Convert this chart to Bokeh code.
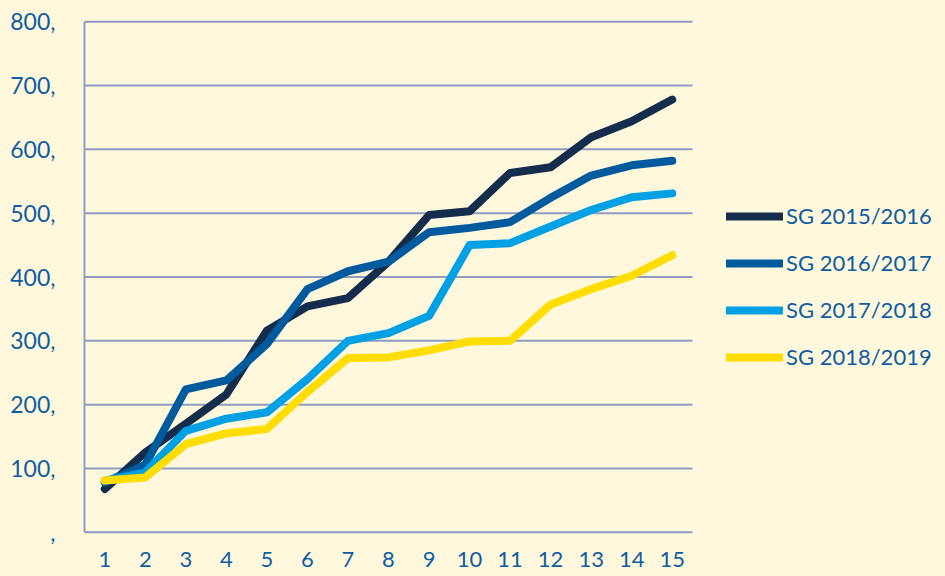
from bokeh.plotting import figure
from bokeh.models import Legend, LegendItem, FixedTicker, Range1d
from bokeh.embed import file_html
from bokeh.resources import INLINE

rounds = list(range(1, 16))
sg_2015_2016 = [68, 125, 170, 216, 316, 354, 367, 424, 497, 503, 563, 572, 619, 644, 678]
sg_2016_2017 = [78, 106, 224, 238, 295, 381, 409, 424, 470, 477, 486, 524, 559, 575, 582]
sg_2017_2018 = [81, 94, 159, 178, 188, 240, 300, 312, 339, 450, 453, 479, 505, 525, 531]
sg_2018_2019 = [81, 86, 138, 155, 162, 220, 273, 274, 285, 299, 300, 357, 381, 402, 434]

series_names = ["SG 2015/2016", "SG 2016/2017", "SG 2017/2018", "SG 2018/2019"]
series_colors = ["#152D4C", "#005A9E", "#00A1E4", "#FFDD00"]

y_ticks = [0, 100, 200, 300, 400, 500, 600, 700, 800]
y_tick_labels = [",", "100,", "200,", "300,", "400,", "500,", "600,", "700,", "800,"]

BG = "#FFF8DC"
GRID = "#8C9DC0"
TEXT = "#0E5CA3"
FONT = "Lato"

# plot area spans the legend region too; gridlines/axis lines drawn only over the data span
x_lo, x_hi = 0.5, len(rounds) + 0.5
px_per_x = 608 / len(rounds)
frame_w = 945 - 81
x_start = x_lo - 3 / px_per_x
x_end = x_start + frame_w / px_per_x

p = figure(width=945, height=576, output_backend="svg", toolbar_location=None,
           x_range=Range1d(x_start, x_end), y_range=Range1d(-5, 805),
           min_border_left=81, min_border_right=0, min_border_top=18, min_border_bottom=41)
p.background_fill_color = BG
p.border_fill_color = BG
p.outline_line_color = None
p.xgrid.grid_line_color = None
p.ygrid.grid_line_color = None

# horizontal gridlines and axis lines
p.segment(x0=[x_lo] * len(y_ticks), x1=[x_hi] * len(y_ticks), y0=y_ticks, y1=y_ticks,
          line_color=GRID, line_width=2)
p.segment(x0=[x_lo], x1=[x_lo], y0=[y_ticks[0]], y1=[y_ticks[-1]], line_color=GRID, line_width=2)

p.yaxis.ticker = FixedTicker(ticks=y_ticks)
p.yaxis.major_label_overrides = {t: l for t, l in zip(y_ticks, y_tick_labels)}
p.xaxis.ticker = FixedTicker(ticks=rounds)

for ax in (p.xaxis[0], p.yaxis[0]):
    ax.axis_line_color = None
    ax.major_tick_line_color = None
    ax.minor_tick_line_color = None
    ax.major_label_text_color = TEXT
    ax.major_label_text_font = FONT
    ax.major_label_text_font_size = "23px"
p.xaxis.major_label_text_font_size = "22px"
p.xaxis.major_label_standoff = 10
p.yaxis.major_label_standoff = 20

items = []
for name, vals, col in zip(series_names,
                           [sg_2015_2016, sg_2016_2017, sg_2017_2018, sg_2018_2019],
                           series_colors):
    r = p.line(rounds, vals, line_color=col, line_width=8, line_cap="round", line_join="round")
    items.append(LegendItem(label=name, renderers=[r]))

legend = Legend(items=items, location=(645, 165), orientation="vertical",
                glyph_width=57, glyph_height=20, label_height=20, label_standoff=3,
                spacing=20, padding=0, margin=0,
                label_text_font=FONT, label_text_font_size="22px", label_text_color=TEXT,
                background_fill_alpha=0, border_line_color=None)
p.add_layout(legend, "center")

html = file_html(p, INLINE)
html = html.replace("<head>", "<head><style>html,body{background:%s;margin:0;padding:0;}</style>" % BG, 1)
open("out.html", "w").write(html)
